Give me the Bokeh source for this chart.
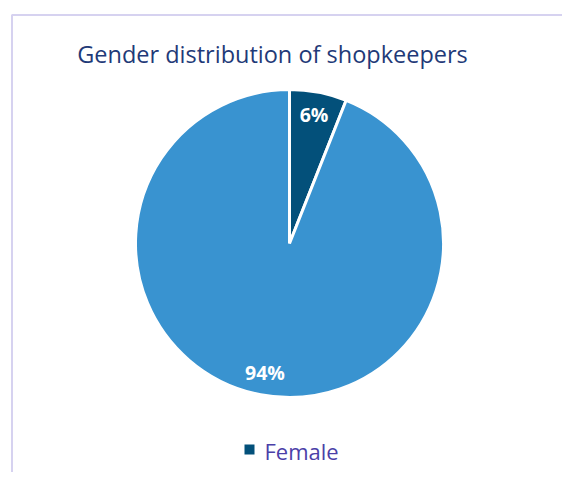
import math
from bokeh.plotting import figure
from bokeh.models import Range1d
from bokeh.core.properties import value
from bokeh.embed import file_html
from bokeh.resources import INLINE

title = "Gender distribution of shopkeepers"
categories = ["Female", "Male"]
shares = [6, 94]
labels = ["6%", "94%"]
colors = ["#03507A", "#3993D0"]
legend_items = ["Female"]

W, H = 562, 472
p = figure(width=W, height=H, output_backend="svg", toolbar_location=None,
           x_range=Range1d(0, W), y_range=Range1d(0, H), min_border=0)
p.axis.visible = False
p.grid.visible = False
p.outline_line_color = None
p.background_fill_color = "white"

# frame border
p.line(x=[11.5, 11.5, W + 5], y=[-5, 457.5, 457.5], line_color="#D6D2F0", line_width=2)

cx, cy, R = 289, 229, 154
total = sum(shares)
start = math.pi / 2
for cat, s, lab, col in zip(categories, shares, labels, colors):
    sweep = s / total * 2 * math.pi
    end = start - sweep
    p.wedge(x=cx, y=cy, radius=R, start_angle=end, end_angle=start,
            fill_color=col, line_color="white", line_width=3)
    mid = (start + end) / 2
    lr = 0.85 * R
    p.text(x=[cx + lr * math.cos(mid)], y=[cy + lr * math.sin(mid)], text=[lab],
           text_font=value("Open Sans"), text_font_style="bold",
           text_font_size="19.5px", text_color="white",
           text_align="center", text_baseline="middle")
    start = end

p.text(x=[272], y=[H - 53], text=[title], text_font=value("Open Sans"),
       text_font_size="23.5px", text_color="#1F3A78",
       text_align="center", text_baseline="middle")

# legend
p.scatter(x=[249], y=[H - 449], marker="square", size=10,
          fill_color=colors[0], line_color=None)
p.text(x=[264], y=[H - 450], text=legend_items, text_font=value("Open Sans"),
       text_font_size="22px", text_color="#4B3FA8",
       text_align="left", text_baseline="middle")

open("out.html", "w").write(file_html(p, INLINE))
